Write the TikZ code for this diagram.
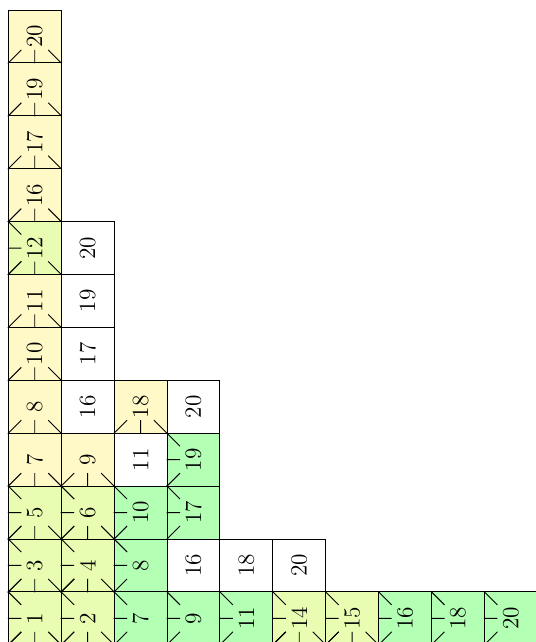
\documentclass[tikz,border=0pt]{standalone}
\usepackage{fontspec}
\usepackage{graphicx}
\usetikzlibrary{calc}
\definecolor{cy}{RGB}{255,249,199}
\definecolor{cg}{RGB}{179,255,179}
\definecolor{cb}{RGB}{232,252,178}
\begin{document}
\begin{tikzpicture}[x=1cm,y=1cm,
  cell/.style={draw, line width=0.5pt, minimum size=1cm, inner sep=0pt, anchor=center,
    font=\fontsize{12.5}{15}\selectfont},
  celly/.style={cell, fill=cy},
  cellg/.style={cell, fill=cg},
  cellb/.style={cell, fill=cb},
  cellw/.style={cell, fill=white},
  tick/.style={line width=0.5pt}]
\useasboundingbox (-0.157,0.053) rectangle (9.975,12.189);
% nodes
\foreach \i/\j/\n in {0/3/7, 1/3/9, 0/4/8, 2/4/18, 0/5/10, 0/6/11, 0/8/16, 0/9/17, 0/10/19, 0/11/20}
  \node[celly] (c\i-\j) at (\i+0.5,\j+0.5) {\rotatebox{90}{\n}};
\foreach \i/\j/\n in {2/0/7, 3/0/9, 4/0/11, 7/0/16, 8/0/18, 9/0/20, 2/1/8, 2/2/10, 3/2/17, 3/3/19}
  \node[cellg] (c\i-\j) at (\i+0.5,\j+0.5) {\rotatebox{90}{\n}};
\foreach \i/\j/\n in {0/0/1, 1/0/2, 5/0/14, 6/0/15, 0/1/3, 1/1/4, 0/2/5, 1/2/6, 0/7/12}
  \node[cellb] (c\i-\j) at (\i+0.5,\j+0.5) {\rotatebox{90}{\n}};
\foreach \i/\j/\n in {3/1/16, 4/1/18, 5/1/20, 2/3/11, 1/4/16, 3/4/20, 1/5/17, 1/6/19, 1/7/20}
  \node[cellw] (c\i-\j) at (\i+0.5,\j+0.5) {\rotatebox{90}{\n}};
% bottom fans (yellow and both)
\foreach \c in {c0-3, c1-3, c0-4, c2-4, c0-5, c0-6, c0-8, c0-9, c0-10, c0-11,
                c0-0, c1-0, c5-0, c6-0, c0-1, c1-1, c0-2, c1-2, c0-7}
  \draw[tick] (\c.south west) -- ($(\c.south west)!.5!(\c.center)$)
              (\c.south) -- ($(\c.south)!.5!(\c.center)$)
              (\c.south east) -- ($(\c.south east)!.5!(\c.center)$);
% left fans (green and both)
\foreach \c in {c2-0, c3-0, c4-0, c7-0, c8-0, c9-0, c2-1, c2-2, c3-2, c3-3,
                c0-0, c1-0, c5-0, c6-0, c0-1, c1-1, c0-2, c1-2, c0-7}
  \draw[tick] (\c.north west) -- ($(\c.north west)!.5!(\c.center)$)
              (\c.west) -- ($(\c.west)!.5!(\c.center)$)
              (\c.south west) -- ($(\c.south west)!.5!(\c.center)$);
\end{tikzpicture}
\end{document}
